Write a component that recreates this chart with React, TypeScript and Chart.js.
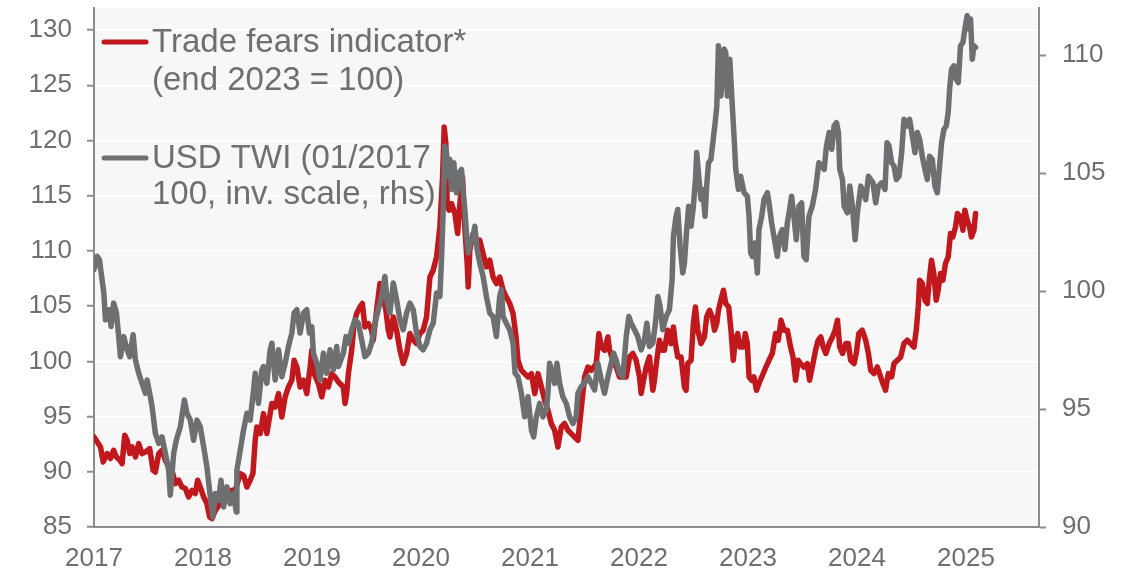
import React, { useEffect, useRef } from "react";
import { Chart, registerables } from "chart.js";

Chart.register(...registerables);

// ---------- data ----------
const yearTicks = [2017, 2018, 2019, 2020, 2021, 2022, 2023, 2024, 2025];
const leftTicks = [85, 90, 95, 100, 105, 110, 115, 120, 125, 130];
const rightTicks = [90, 95, 100, 105, 110];

const legendLines = [
  "Trade fears indicator*",
  "(end 2023 = 100)",
  "USD TWI (01/2017",
  "100, inv. scale, rhs)",
];

// USD TWI (right axis)
const twiYears = [
  2017.0, 2017.03, 2017.05, 2017.07, 2017.09, 2017.105, 2017.136, 2017.157, 2017.18, 2017.206,
  2017.227, 2017.243, 2017.273, 2017.304, 2017.328, 2017.359, 2017.38, 2017.41, 2017.441, 2017.472,
  2017.487, 2017.517, 2017.533, 2017.563, 2017.594, 2017.624, 2017.655, 2017.685, 2017.7, 2017.731,
  2017.755, 2017.792, 2017.829, 2017.853, 2017.884, 2017.914, 2017.945, 2017.975, 2018.006, 2018.036,
  2018.067, 2018.091, 2018.113, 2018.143, 2018.165, 2018.189, 2018.22, 2018.25, 2018.28, 2018.305,
  2018.311, 2018.342, 2018.372, 2018.403, 2018.433, 2018.464, 2018.479, 2018.509, 2018.54, 2018.555,
  2018.586, 2018.616, 2018.632, 2018.662, 2018.693, 2018.723, 2018.754, 2018.784, 2018.815, 2018.836,
  2018.861, 2018.891, 2018.922, 2018.952, 2018.976, 2018.998, 2019.013, 2019.044, 2019.074, 2019.105,
  2019.135, 2019.166, 2019.196, 2019.227, 2019.242, 2019.288, 2019.312, 2019.334, 2019.364, 2019.395,
  2019.425, 2019.456, 2019.486, 2019.517, 2019.547, 2019.578, 2019.608, 2019.639, 2019.669, 2019.691,
  2019.715, 2019.746, 2019.776, 2019.807, 2019.837, 2019.868, 2019.898, 2019.929, 2019.959, 2019.99,
  2020.02, 2020.051, 2020.082, 2020.112, 2020.143, 2020.173, 2020.188, 2020.204, 2020.219, 2020.234,
  2020.249, 2020.265, 2020.28, 2020.301, 2020.326, 2020.35, 2020.372, 2020.387, 2020.402, 2020.417,
  2020.433, 2020.454, 2020.478, 2020.494, 2020.515, 2020.539, 2020.57, 2020.6, 2020.631, 2020.661,
  2020.692, 2020.722, 2020.738, 2020.753, 2020.783, 2020.814, 2020.845, 2020.863, 2020.89, 2020.921,
  2020.951, 2020.982, 2021.013, 2021.034, 2021.058, 2021.089, 2021.119, 2021.15, 2021.165, 2021.18,
  2021.205, 2021.226, 2021.247, 2021.272, 2021.302, 2021.333, 2021.363, 2021.394, 2021.424, 2021.44,
  2021.47, 2021.501, 2021.532, 2021.562, 2021.593, 2021.623, 2021.654, 2021.684, 2021.715, 2021.745,
  2021.767, 2021.791, 2021.821, 2021.852, 2021.883, 2021.907, 2021.928, 2021.959, 2021.989, 2022.02,
  2022.05, 2022.072, 2022.096, 2022.127, 2022.151, 2022.173, 2022.194, 2022.218, 2022.249, 2022.279,
  2022.304, 2022.316, 2022.34, 2022.356, 2022.377, 2022.402, 2022.417, 2022.438, 2022.456, 2022.478,
  2022.499, 2022.518, 2022.53, 2022.548, 2022.569, 2022.584, 2022.606, 2022.621, 2022.638, 2022.66,
  2022.681, 2022.699, 2022.714, 2022.729, 2022.751, 2022.766, 2022.781, 2022.796, 2022.811, 2022.833,
  2022.851, 2022.872, 2022.888, 2022.912, 2022.933, 2022.964, 2022.994, 2023.01, 2023.025, 2023.04,
  2023.064, 2023.086, 2023.101, 2023.126, 2023.147, 2023.178, 2023.193, 2023.217, 2023.238, 2023.269,
  2023.29, 2023.315, 2023.339, 2023.361, 2023.382, 2023.4, 2023.421, 2023.443, 2023.468, 2023.492,
  2023.513, 2023.534, 2023.559, 2023.59, 2023.62, 2023.65, 2023.699, 2023.72, 2023.745, 2023.769,
  2023.79, 2023.812, 2023.83, 2023.842, 2023.867, 2023.882, 2023.912, 2023.934, 2023.958, 2023.983,
  2024.004, 2024.035, 2024.056, 2024.08, 2024.105, 2024.126, 2024.147, 2024.172, 2024.196, 2024.227,
  2024.257, 2024.276, 2024.294, 2024.318, 2024.34, 2024.361, 2024.386, 2024.41, 2024.431, 2024.462,
  2024.483, 2024.508, 2024.532, 2024.554, 2024.575, 2024.599, 2024.624, 2024.645, 2024.666, 2024.691,
  2024.715, 2024.737, 2024.758, 2024.776, 2024.798, 2024.819, 2024.837, 2024.85, 2024.868, 2024.889,
  2024.91, 2024.929, 2024.95, 2024.972, 2024.99, 2025.011, 2025.027, 2025.042, 2025.058, 2025.073,
  2025.088,
];
const twiValues = [
  100.91, 101.47, 101.33, 100.62, 99.92, 98.78, 99.21, 98.5, 99.49, 99.07,
  98.07, 97.22, 98.07, 97.51, 97.22, 98.15, 97.08, 96.52, 96.09, 95.67,
  96.23, 95.52, 95.1, 93.97, 93.54, 93.82, 93.12, 92.41, 91.35, 93.12,
  93.68, 94.25, 95.38, 94.82, 94.53, 93.68, 94.53, 94.25, 93.4, 92.55,
  91.27, 90.42, 91.42, 91.13, 91.98, 90.85, 91.7, 90.99, 91.42, 90.64,
  92.41, 93.26, 94.11, 94.82, 94.53, 95.81, 96.52, 95.24, 96.66, 96.8,
  96.09, 97.51, 97.79, 96.23, 97.51, 96.37, 96.94, 97.65, 98.22, 99.07,
  99.21, 98.22, 99.07, 99.21, 98.22, 98.5, 97.37, 96.94, 96.23, 97.37,
  96.52, 97.51, 96.66, 97.65, 96.8, 97.37, 98.07, 97.79, 98.36, 98.78,
  98.64, 97.93, 97.22, 97.37, 97.79, 98.64, 99.21, 99.77, 100.62, 99.49,
  99.07, 100.34, 99.63, 98.78, 98.36, 99.07, 99.49, 99.21, 98.22, 97.65,
  97.51, 97.79, 98.36, 98.64, 99.92, 99.77, 101.33, 103.46, 106.15, 105.87,
  104.87, 105.58, 104.31, 105.44, 104.17, 105.02, 105.16, 104.17, 103.46, 102.47,
  101.62, 102.04, 102.32, 102.75, 101.76, 101.19, 100.62, 99.77, 99.07, 98.92,
  98.07, 99.77, 100.06, 98.92, 98.64, 98.36, 97.79, 96.52, 96.37, 95.67,
  94.67, 95.52, 94.11, 93.82, 94.67, 95.24, 94.67, 94.96, 95.67, 96.94,
  96.52, 96.09, 96.94, 96.09, 95.52, 95.24, 94.67, 94.39, 94.67, 95.67,
  95.95, 96.09, 96.37, 96.09, 95.81, 96.94, 96.23, 95.67, 96.37, 96.94,
  97.37, 97.08, 96.52, 96.37, 98.07, 98.92, 98.64, 98.36, 98.07, 97.51,
  97.93, 98.64, 97.65, 97.79, 98.64, 99.77, 99.35, 98.36, 98.92, 99.21,
  100.48, 102.32, 103.17, 103.46, 101.9, 100.77, 101.19, 102.61, 103.6, 102.75,
  103.6, 104.73, 105.87, 104.87, 103.88, 104.31, 103.17, 104.45, 105.44, 105.58,
  106.43, 107.14, 107.85, 110.4, 108.27, 109.12, 110.26, 110.12, 108.27, 109.83,
  108.27, 106.57, 105.16, 104.31, 104.87, 104.17, 104.02, 103.17, 101.62, 101.47,
  102.04, 100.77, 102.61, 103.17, 103.88, 104.17, 103.74, 102.89, 102.32, 101.47,
  102.32, 102.61, 101.76, 102.89, 103.46, 104.02, 103.17, 102.18, 103.6, 103.74,
  101.47, 101.33, 103.17, 103.6, 104.31, 105.44, 105.16, 106.15, 106.72, 106.01,
  107.0, 107.14, 106.72, 105.16, 104.73, 103.6, 103.32, 104.45, 103.6, 102.18,
  103.32, 104.45, 104.17, 103.88, 104.87, 104.73, 104.59, 103.74, 104.45, 104.59,
  104.31, 106.29, 106.15, 105.44, 105.3, 104.73, 104.87, 105.87, 107.28, 107.0,
  107.28, 106.57, 105.87, 106.72, 106.43, 105.72, 105.16, 104.73, 105.72, 105.58,
  104.45, 104.17, 105.3, 106.29, 106.86, 107.0, 107.57, 108.56, 109.41, 109.55,
  108.98, 108.84, 110.4, 110.54, 111.11, 111.67, 111.11, 111.53, 109.83, 110.4,
  110.33,
];

// Trade fears indicator (left axis)
const tradeYears = [
  2017.0, 2017.03, 2017.06, 2017.084, 2017.12, 2017.151, 2017.18, 2017.206, 2017.237, 2017.258,
  2017.282, 2017.304, 2017.328, 2017.35, 2017.38, 2017.41, 2017.441, 2017.472, 2017.511, 2017.542,
  2017.563, 2017.594, 2017.624, 2017.655, 2017.685, 2017.716, 2017.746, 2017.777, 2017.807, 2017.838,
  2017.868, 2017.899, 2017.929, 2017.951, 2017.975, 2018.006, 2018.036, 2018.061, 2018.082, 2018.113,
  2018.158, 2018.204, 2018.234, 2018.265, 2018.296, 2018.342, 2018.372, 2018.403, 2018.433, 2018.458,
  2018.479, 2018.494, 2018.525, 2018.555, 2018.586, 2018.616, 2018.632, 2018.662, 2018.693, 2018.723,
  2018.754, 2018.784, 2018.815, 2018.836, 2018.861, 2018.891, 2018.922, 2018.952, 2018.983, 2018.998,
  2019.019, 2019.059, 2019.09, 2019.12, 2019.15, 2019.181, 2019.211, 2019.242, 2019.288, 2019.303,
  2019.318, 2019.334, 2019.364, 2019.386, 2019.41, 2019.44, 2019.462, 2019.486, 2019.517, 2019.547,
  2019.562, 2019.593, 2019.623, 2019.654, 2019.678, 2019.7, 2019.715, 2019.746, 2019.776, 2019.807,
  2019.837, 2019.868, 2019.898, 2019.929, 2019.959, 2019.99, 2020.02, 2020.051, 2020.082, 2020.112,
  2020.143, 2020.173, 2020.198, 2020.213, 2020.228, 2020.24, 2020.258, 2020.28, 2020.311, 2020.336,
  2020.357, 2020.381, 2020.402, 2020.424, 2020.433, 2020.448, 2020.478, 2020.509, 2020.539, 2020.57,
  2020.6, 2020.631, 2020.661, 2020.692, 2020.722, 2020.753, 2020.783, 2020.814, 2020.845, 2020.872,
  2020.89, 2020.921, 2020.951, 2020.982, 2021.013, 2021.044, 2021.074, 2021.105, 2021.135, 2021.165,
  2021.195, 2021.226, 2021.256, 2021.287, 2021.317, 2021.348, 2021.378, 2021.409, 2021.44, 2021.501,
  2021.532, 2021.562, 2021.608, 2021.632, 2021.654, 2021.684, 2021.715, 2021.73, 2021.76, 2021.791,
  2021.821, 2021.852, 2021.883, 2021.913, 2021.944, 2021.974, 2022.005, 2022.02, 2022.042, 2022.066,
  2022.096, 2022.127, 2022.142, 2022.163, 2022.188, 2022.212, 2022.233, 2022.264, 2022.294, 2022.316,
  2022.334, 2022.356, 2022.386, 2022.417, 2022.432, 2022.447, 2022.478, 2022.499, 2022.518, 2022.539,
  2022.569, 2022.6, 2022.621, 2022.647, 2022.672, 2022.693, 2022.713, 2022.729, 2022.751, 2022.775,
  2022.796, 2022.823, 2022.844, 2022.865, 2022.884, 2022.905, 2022.926, 2022.957, 2022.975, 2022.994,
  2023.01, 2023.034, 2023.055, 2023.078, 2023.101, 2023.126, 2023.165, 2023.193, 2023.223, 2023.254,
  2023.278, 2023.303, 2023.331, 2023.361, 2023.391, 2023.413, 2023.437, 2023.461, 2023.483, 2023.513,
  2023.544, 2023.565, 2023.59, 2023.62, 2023.644, 2023.668, 2023.69, 2023.714, 2023.745, 2023.775,
  2023.799, 2023.821, 2023.842, 2023.867, 2023.897, 2023.921, 2023.942, 2023.973, 2023.993, 2024.017,
  2024.048, 2024.08, 2024.105, 2024.126, 2024.156, 2024.187, 2024.217, 2024.238, 2024.262, 2024.287,
  2024.318, 2024.34, 2024.371, 2024.401, 2024.431, 2024.462, 2024.492, 2024.523, 2024.544, 2024.562,
  2024.575, 2024.599, 2024.624, 2024.645, 2024.666, 2024.684, 2024.705, 2024.727, 2024.745, 2024.766,
  2024.788, 2024.812, 2024.837, 2024.858, 2024.879, 2024.904, 2024.922, 2024.95, 2024.972, 2024.99,
  2025.011, 2025.033, 2025.05, 2025.073, 2025.088,
];
const tradeValues = [
  93.15, 92.7, 92.25, 90.89, 91.65, 91.2, 91.95, 91.34, 91.04, 90.74,
  93.31, 92.85, 91.65, 92.25, 91.34, 92.55, 91.65, 91.79, 92.1, 90.14,
  89.98, 91.65, 91.95, 91.04, 90.43, 90.14, 88.93, 89.23, 88.62, 88.48,
  87.72, 88.32, 88.03, 89.23, 88.62, 87.72, 87.12, 85.91, 85.76, 86.51,
  87.12, 87.42, 88.03, 88.32, 88.32, 89.84, 89.68, 88.62, 89.23, 89.84,
  92.85, 94.06, 93.46, 95.27, 93.46, 95.27, 96.18, 95.87, 97.08, 94.96,
  96.78, 97.68, 98.29, 100.1, 99.49, 97.68, 98.29, 97.08, 99.49, 101.01,
  98.89, 97.99, 96.78, 98.29, 97.68, 98.89, 98.59, 98.13, 97.68, 96.18,
  97.08, 98.89, 101.01, 103.42, 104.33, 104.93, 105.24, 103.12, 103.42, 102.82,
  101.91, 104.63, 107.05, 105.83, 104.63, 102.82, 102.21, 104.02, 102.82, 101.01,
  99.8, 100.71, 102.52, 101.91, 101.61, 102.52, 102.82, 104.02, 107.64, 108.25,
  109.46, 112.17, 116.7, 121.23, 119.73, 114.29, 113.69, 114.29, 113.39, 111.58,
  114.29, 116.7, 112.17, 108.86, 106.74, 110.06, 111.58, 110.67, 110.97, 109.76,
  108.55, 109.16, 107.64, 107.05, 107.64, 106.44, 105.83, 105.24, 104.33, 102.21,
  100.1, 99.19, 98.89, 98.59, 98.89, 97.08, 98.89, 97.68, 96.48, 95.57,
  94.37, 93.76, 92.25, 94.06, 94.37, 93.76, 93.46, 93.15, 92.85, 98.59,
  99.49, 99.19, 99.8, 102.52, 101.3, 101.01, 102.21, 101.01, 100.1, 99.49,
  98.59, 98.59, 98.59, 100.4, 100.71, 100.1, 98.59, 97.08, 98.29, 99.49,
  100.4, 97.38, 98.29, 100.1, 101.91, 101.01, 101.01, 102.82, 101.61, 103.12,
  101.61, 100.4, 100.4, 97.68, 97.38, 99.8, 100.1, 103.42, 104.93, 102.82,
  101.61, 102.21, 104.02, 104.63, 104.02, 102.82, 103.42, 104.63, 105.53, 106.44,
  105.24, 104.93, 102.82, 100.1, 101.91, 102.52, 101.3, 101.3, 102.52, 101.61,
  98.59, 98.29, 98.59, 97.38, 97.99, 98.59, 99.49, 100.1, 100.71, 102.52,
  101.91, 103.72, 102.82, 102.82, 101.3, 100.4, 98.29, 100.1, 99.8, 99.49,
  99.8, 98.29, 99.49, 101.01, 101.91, 102.21, 101.3, 100.71, 101.61, 102.21,
  102.82, 103.72, 101.3, 100.71, 101.61, 101.61, 100.1, 99.8, 100.71, 102.52,
  102.82, 101.91, 100.71, 99.19, 98.89, 99.49, 98.59, 97.99, 97.38, 98.89,
  98.59, 99.8, 100.1, 100.4, 101.61, 101.91, 101.61, 101.3, 102.82, 104.93,
  107.35, 107.05, 105.53, 105.24, 107.64, 109.16, 107.95, 105.53, 106.44, 107.95,
  107.35, 108.86, 109.46, 111.58, 111.27, 112.17, 113.39, 113.08, 111.87, 113.69,
  112.78, 112.17, 111.27, 111.87, 113.39,
];

// ---------- styles ----------
const RED = "#c0181d";
const GREY = "#6e6f71";
const TEXT = "#6f6f6f";
const AXIS = "#8c8c8c";
const PLOT_BG = "#f7f7f7";
const FONT = '"Liberation Sans", Arial, sans-serif';

const bgPlugin = {
  id: "plotBg",
  beforeDraw(chart: any) {
    const { ctx, chartArea } = chart;
    ctx.save();
    ctx.fillStyle = PLOT_BG;
    ctx.fillRect(chartArea.left, chartArea.top, chartArea.right - chartArea.left, chartArea.bottom - chartArea.top);
    ctx.restore();
  },
};

const legendPlugin = {
  id: "textLegend",
  afterDatasetsDraw(chart: any) {
    const ctx = chart.ctx;
    ctx.save();
    ctx.lineCap = "round";
    ctx.lineWidth = 5;
    ctx.strokeStyle = RED;
    ctx.beginPath();
    ctx.moveTo(104, 42);
    ctx.lineTo(146, 42);
    ctx.stroke();
    ctx.strokeStyle = GREY;
    ctx.beginPath();
    ctx.moveTo(104, 158);
    ctx.lineTo(146, 158);
    ctx.stroke();
    ctx.fillStyle = TEXT;
    ctx.font = `33px ${FONT}`;
    ctx.textAlign = "left";
    ctx.textBaseline = "alphabetic";
    const baselines = [52, 90, 168, 204];
    legendLines.forEach((t, i) => ctx.fillText(t, 152, baselines[i]));
    ctx.restore();
  },
};

export default function App() {
  const ref = useRef<HTMLCanvasElement | null>(null);

  useEffect(() => {
    if (!ref.current) return;
    const chart = new Chart(ref.current, {
      type: "line",
      data: {
        datasets: [
          {
            label: "USD TWI",
            data: twiYears.map((x, i) => ({ x, y: twiValues[i] })),
            yAxisID: "y1",
            borderColor: GREY,
            borderWidth: 5.5,
            pointRadius: 0,
            borderJoinStyle: "round",
            borderCapStyle: "round",
            tension: 0,
          },
          {
            label: "Trade fears indicator",
            data: tradeYears.map((x, i) => ({ x, y: tradeValues[i] })),
            yAxisID: "y",
            borderColor: RED,
            borderWidth: 5.5,
            pointRadius: 0,
            borderJoinStyle: "round",
            borderCapStyle: "round",
            tension: 0,
          },
        ],
      },
      options: {
        animation: false,
        responsive: false,
        devicePixelRatio: 1,
        layout: { padding: { top: 8, left: 0, right: 0, bottom: 0 } },
        plugins: { legend: { display: false }, tooltip: { enabled: false } },
        scales: {
          x: {
            type: "linear",
            min: 2017,
            max: 2025.67,
            afterBuildTicks: (s: any) => {
              s.ticks = yearTicks.map((v) => ({ value: v }));
            },
            afterFit: (s: any) => {
              s.height = 45;
              s.paddingLeft = 0;
              s.paddingRight = 0;
            },
            grid: { display: true, drawOnChartArea: false, drawTicks: false },
            border: { display: true, color: AXIS, width: 2 },
            ticks: {
              autoSkip: false,
              maxRotation: 0,
              padding: 16,
              color: TEXT,
              font: { family: FONT, size: 26 },
              callback: (v: any) => String(v),
            },
          },
          y: {
            position: "left",
            min: 85,
            max: 132,
            afterBuildTicks: (s: any) => {
              s.ticks = leftTicks.map((v) => ({ value: v }));
            },
            afterFit: (s: any) => {
              s.width = 94;
              s.paddingTop = 0;
              s.paddingBottom = 0;
            },
            grid: {
              color: "#ffffff",
              lineWidth: 1.5,
              tickColor: AXIS,
              tickLength: 7,
              tickWidth: 2,
            },
            border: { display: true, color: AXIS, width: 2 },
            ticks: {
              padding: 15,
              color: TEXT,
              font: { family: FONT, size: 26 },
              callback: (v: any) => String(v),
            },
          },
          y1: {
            position: "right",
            min: 90,
            max: 112,
            afterBuildTicks: (s: any) => {
              s.ticks = rightTicks.map((v) => ({ value: v }));
            },
            afterFit: (s: any) => {
              s.width = 98;
              s.paddingTop = 0;
              s.paddingBottom = 0;
            },
            grid: {
              drawOnChartArea: false,
              tickColor: AXIS,
              tickLength: 7,
              tickWidth: 2,
            },
            border: { display: true, color: AXIS, width: 2 },
            ticks: {
              padding: 16,
              color: TEXT,
              font: { family: FONT, size: 26 },
              callback: (v: any) => String(v),
            },
          },
        },
      },
      plugins: [bgPlugin, legendPlugin],
    } as any);
    return () => chart.destroy();
  }, []);

  return (
    <div style={{ position: "absolute", left: 0, top: 0, width: 1137, height: 572, background: "#ffffff" }}>
      <canvas ref={ref} width={1137} height={572} style={{ display: "block" }} />
    </div>
  );
}
